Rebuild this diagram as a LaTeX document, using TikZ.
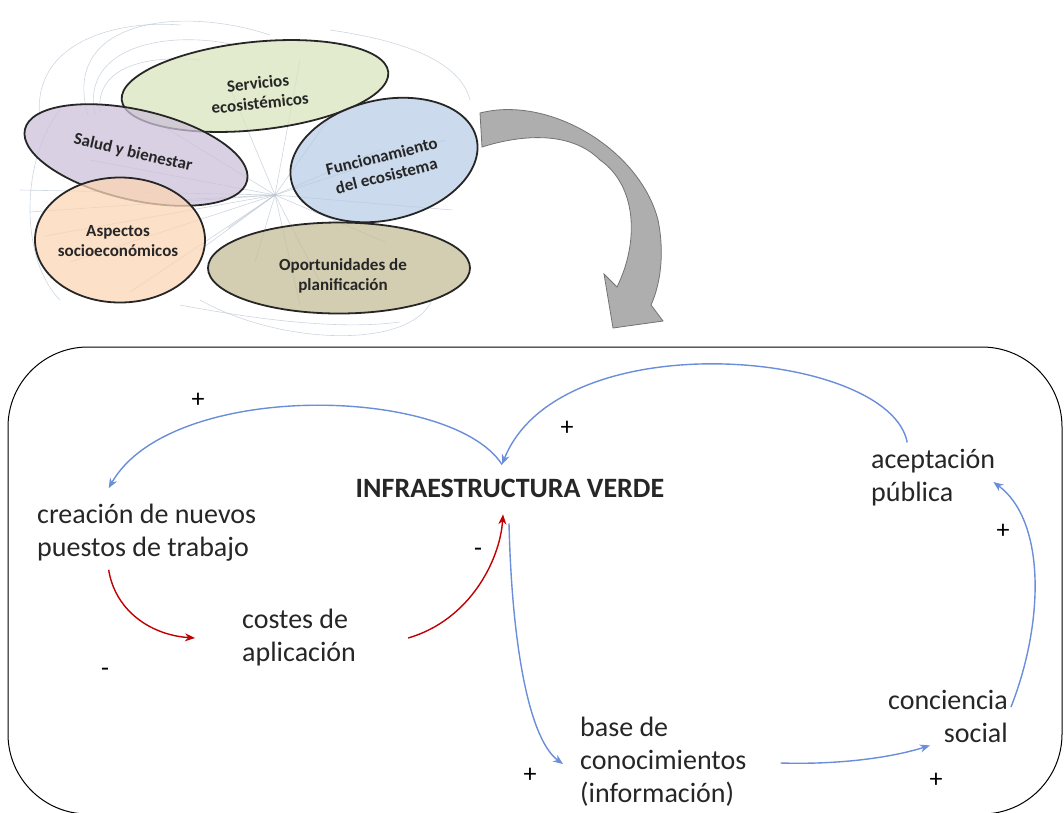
\documentclass[tikz,border=0pt]{standalone}
\usepackage{fontspec}
\setmainfont{Carlito}
\usetikzlibrary{arrows.meta}
\definecolor{lazo}{HTML}{6A8ED9}
\definecolor{freno}{HTML}{C00000}
\definecolor{tinta}{HTML}{262626}
\definecolor{hilo}{HTML}{B8C4D2}
\definecolor{verdeS}{HTML}{D8E4BC}
\definecolor{moradoS}{HTML}{CCC1DA}
\definecolor{azulS}{HTML}{B9CDE5}
\definecolor{naranjaS}{HTML}{FBD5B5}
\definecolor{olivaS}{HTML}{C4BD97}
\begin{document}
\begin{tikzpicture}[x=1pt,y=-1pt,
  txt/.style={font=\fontsize{28}{33}\selectfont, text=tinta, inner sep=0pt},
  signo/.style={font=\fontsize{26}{30}\selectfont, text=black, inner sep=0pt},
  bloque/.style={draw=black!85, line width=1.8pt, fill opacity=0.75},
  rotulo/.style={text=tinta, font=\fontsize{17}{20}\selectfont\bfseries, align=center, inner sep=0pt},
  refuerzo/.style={draw=lazo, line width=1.4pt, -{Stealth[length=10pt,width=8pt]}},
  balance/.style={draw=freno, line width=1.4pt, -{Stealth[length=10pt,width=8pt]}},
  hilos/.style={draw=hilo, line width=0.6pt, opacity=0.7}]
\useasboundingbox (0,0) rectangle (1064,812);

\coordinate (hub) at (275,195);
\foreach \px/\py in {20/190,30/212,45/236,70/262,130/292,200/250,150/118,230/88,300/60,335/110,
  380/150,445/140,452/210,385/242,320/282,300/305,255/262,228/228,175/200,90/160}
  \draw[hilos] (hub) -- (\px,\py);
\draw[hilos] (88,115) .. controls (60,20) and (180,5) .. (270,35);
\draw[hilos] (95,115) .. controls (80,45) and (170,30) .. (235,45);
\draw[hilos] (100,112) .. controls (95,65) and (150,55) .. (200,60);
\draw[hilos] (40,120) .. controls (30,40) and (120,20) .. (180,25);
\draw[hilos] (60,110) .. controls (20,160) and (20,260) .. (60,300);
\draw[hilos] (180,305) .. controls (260,320) and (340,330) .. (400,322);
\draw[hilos] (200,300) .. controls (280,345) and (410,350) .. (432,300);
\draw[hilos] (330,30) .. controls (400,40) and (460,60) .. (470,100);

\draw[bloque, fill=verdeS, rotate around={6:(255,86)}] (255,86) ellipse [x radius=134pt, y radius=44pt];
\draw[bloque, fill=moradoS, rotate around={-13:(136,155)}] (136,155) ellipse [x radius=114pt, y radius=45pt];
\draw[bloque, fill=azulS, rotate around={13:(384,160)}] (384,160) ellipse [x radius=95pt, y radius=60pt];
\draw[bloque, fill=naranjaS] (120,240) ellipse [x radius=85pt, y radius=62.5pt];
\draw[bloque, fill=olivaS] (339,268) ellipse [x radius=131pt, y radius=45.5pt];
\node[rotulo, rotate=6] (servT) at (259,93) {Servicios\\ecosistémicos};
\node[rotulo, rotate=-13] (saludT) at (133,153) {Salud y bienestar};
\node[rotulo, rotate=14] (funcT) at (384,166) {Funcionamiento\\del ecosistema};
\node[rotulo] (aspT) at (118,241) {Aspectos\\socioeconómicos};
\node[rotulo] (opoT) at (343,276) {Oportunidades de\\planificación};

\fill[gray!85!black!55, draw=black!55, line width=0.8pt] (480,113) .. controls (550,95) and (640,150) .. (658,220)
  .. controls (665,255) and (660,285) .. (651,305) -- (663,321) -- (613,328) -- (604,274) -- (617,287)
  .. controls (640,240) and (636,185) .. (600,160) .. controls (570,130) and (520,135) .. (482,147) -- cycle;

\draw[line width=1pt] (8,347) [rounded corners=80pt] rectangle (1062,814);

\node[txt, anchor=base] (infra) at (510,497) {\bfseries INFRAESTRUCTURA VERDE};
\node[txt, align=left, anchor=west] (crea) at (37,533) {creación de nuevos\\puestos de trabajo};
\node[txt, align=left, anchor=west] (cost) at (242,638) {costes de\\aplicación};
\node[txt, align=left, anchor=west] (acep) at (871,478) {aceptación\\pública};
\node[txt, align=right, anchor=east] (conc) at (1008,716) {conciencia\\social};
\node[txt, align=left, anchor=west] (base) at (580,762) {base de\\conocimientos\\(información)};

\node[signo] (s1) at (198,400) {+};
\node[signo] (s2) at (567,428) {+};
\node[signo] (s3) at (1003,531) {+};
\node[signo] (s4) at (530,775) {+};
\node[signo] (s5) at (936,780) {+};
\node[signo] (m1) at (478,552) {-};
\node[signo] (m2) at (105,672) {-};

\draw[refuerzo] ([xshift=-8pt,yshift=14pt]infra.north) .. controls (450,385) and (170,380) .. ([xshift=-38pt,yshift=16pt]crea.north);
\draw[refuerzo] ([xshift=-26pt,yshift=7pt]acep.north) .. controls (890,350) and (560,320) .. ([xshift=-8pt,yshift=14pt]infra.north);
\draw[balance] ([xshift=-38pt,yshift=-8pt]crea.south) .. controls (115,610) and (150,635) .. ([xshift=-47pt]cost.west);
\draw[balance] ([xshift=52pt]cost.east) .. controls (470,620) and (500,560) .. ([xshift=-7pt,yshift=-17pt]infra.south);
\draw[refuerzo] ([xshift=-1pt,yshift=-26pt]infra.south) .. controls (512,650) and (530,740) .. ([xshift=-17pt,yshift=-2pt]base.west);
\draw[refuerzo] ([xshift=34pt,yshift=-1pt]base.east) .. controls (850,765) and (900,755) .. ([xshift=42pt,yshift=-3pt]conc.south west);
\draw[refuerzo] ([xshift=3pt,yshift=9pt]conc.east) .. controls (1045,620) and (1045,520) .. ([xshift=-2pt,yshift=-4pt]acep.east);
\end{tikzpicture}
\end{document}
